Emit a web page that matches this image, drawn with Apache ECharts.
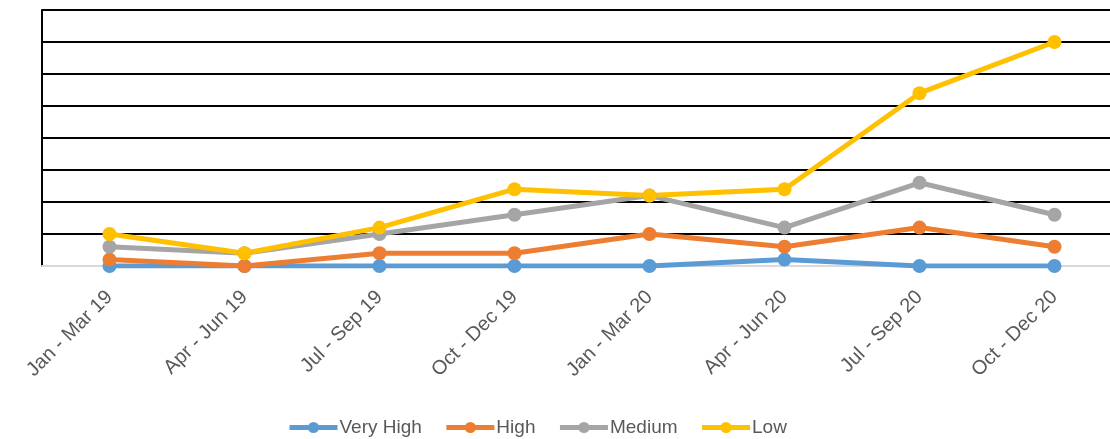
<!DOCTYPE html>
<html>
<head>
<meta charset="utf-8">
<script src="https://cdn.jsdelivr.net/npm/echarts@6/dist/echarts.min.js"></script>
<style>
html,body{margin:0;padding:0;background:#fff;overflow:hidden;width:1110px;height:439px;}
#c{width:1122px;height:439px;}
</style>
</head>
<body>
<div id="c"></div>
<script>
const categories = ['Jan - Mar 19','Apr - Jun 19','Jul - Sep 19','Oct - Dec 19','Jan - Mar 20','Apr - Jun 20','Jul - Sep 20','Oct - Dec 20'];
const veryHigh = [0,0,0,0,0,1,0,0];
const high     = [1,0,2,2,5,3,6,3];
const medium   = [3,2,5,8,11,6,13,8];
const low      = [5,2,6,12,11,12,27,35];
const seriesNames = ['Very High','High','Medium','Low'];
const colors = ['#5B9BD5','#ED7D31','#A5A5A5','#FFC000'];

const font = 'Liberation Sans, Arial, sans-serif';
const chart = echarts.init(document.getElementById('c'));
const mk = (name, data, color) => ({
  name, type:'line', data,
  symbol:'circle', symbolSize:14,
  lineStyle:{width:5, color},
  itemStyle:{color},
  emphasis:{disabled:true},
  animation:false
});
chart.setOption({
  animation:false,
  grid:{left:42, top:10, right:0, bottom:173, containLabel:false},
  legend:{
    bottom:-3, left:282,
    itemWidth:48, itemHeight:14, itemGap:22,
    lineStyle:{width:5},
    textStyle:{color:'#595959', fontSize:19, fontFamily:font, padding:[0,0,0,-3]},
    data:seriesNames
  },
  xAxis:{
    type:'category', data:categories, boundaryGap:true,
    axisLine:{lineStyle:{color:'#d9d9d9', width:2}},
    axisTick:{show:false},
    axisLabel:{rotate:45, color:'#595959', fontSize:20, fontFamily:font, margin:28, interval:0}
  },
  yAxis:{
    type:'value', min:0, max:40, interval:5,
    axisLine:{show:true, lineStyle:{color:'#000', width:2}},
    axisTick:{show:false},
    axisLabel:{show:false},
    splitLine:{lineStyle:{color:'#000', width:2}}
  },
  series:[
    mk(seriesNames[0], veryHigh, colors[0]),
    mk(seriesNames[1], high, colors[1]),
    mk(seriesNames[2], medium, colors[2]),
    mk(seriesNames[3], low, colors[3])
  ]
});
</script>
</body>
</html>
